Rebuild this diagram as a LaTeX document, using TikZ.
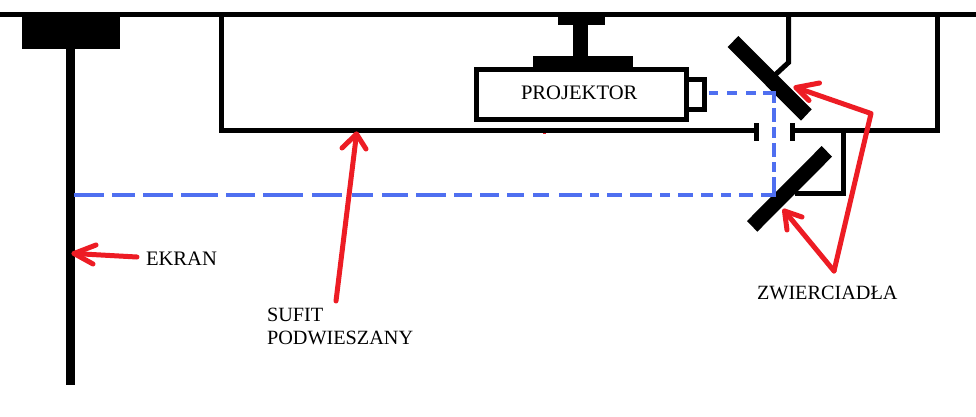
\documentclass[tikz,border=0pt]{standalone}
\usepackage{fontspec}
\setmainfont{Liberation Serif}
\definecolor{beam}{HTML}{4F6FF0}
\definecolor{pointer}{HTML}{ED1C24}
\tikzset{
  frameline/.style={draw=black,line width=5.3pt,line cap=butt,line join=miter},
  thinline/.style={draw=black,line width=5pt,line cap=butt,line join=miter},
  solidpart/.style={fill=black,draw=none},
  beamdash/.style={draw=beam,line width=4.3pt,line cap=butt},
  pointerline/.style={draw=pointer,line width=5pt,line cap=round,line join=round},
  label/.style={anchor=base west,inner sep=0pt,outer sep=0pt,font=\fontsize{20.6}{23}\selectfont,text=black},
  labelsmall/.style={label,font=\fontsize{20.25}{23}\selectfont}
}
\begin{document}
\begin{tikzpicture}[x=1pt,y=-1pt]
\useasboundingbox (0,0) rectangle (976,416);
\fill[white] (0,0) rectangle (976,416);

% ceiling
\draw[frameline] (0,14.5) -- (976,14.5);
% screen
\fill[solidpart] (22,17) rectangle (120,49);
\fill[solidpart] (66,49) rectangle (75,385);
% suspended ceiling
\draw[frameline] (221.5,14.5) -- (221.5,130.5) -- (756,130.5);
\draw[frameline] (792,130.5) -- (937.5,130.5) -- (937.5,14.5);
\draw[frameline] (756.5,123) -- (756.5,141);
\draw[frameline] (792.5,123) -- (792.5,141);
% projector
\fill[solidpart] (558,17) rectangle (605,25);
\fill[solidpart] (573,25) rectangle (588,56);
\fill[solidpart] (533,56) rectangle (633,67);
\draw[frameline] (476.5,69.5) rectangle (686.5,119.5);
\draw[frameline] (689,79.5) -- (704.5,79.5) -- (704.5,109.5) -- (689,109.5);
% mirrors
\draw[thinline] (788.5,15) -- (788.5,62.5) -- (775,75);
\draw[thinline] (843.5,131) -- (843.5,193.5) -- (795,193.5);
\fill[solidpart] (738.3,36) -- (811.7,109.3) -- (801,120.7) -- (727.7,47) -- cycle;
\fill[solidpart] (821.7,146) -- (832,156.7) -- (757.3,231.7) -- (747,221) -- cycle;
% beam
\foreach \a/\b in {74/104,112/135,143/173,181/218,226/255,263/303,312/342,352/373,382/408,416/446,454/472,480/499,507/524,533/549,559/582,590/599,607/622,630/652,660/670,678/693,701/713,721/731,739/753,761/776}
  \draw[beamdash] (\a,195) -- (\b,195);
\foreach \a/\b in {709/718,727/737,746/756,763/776}
  \draw[beamdash] (\a,92.8) -- (\b,92.8);
\foreach \a/\b in {91/103,108/122,127/138,143/157,162/172,177/197}
  \draw[beamdash] (774,\a) -- (774,\b);
% pointers
\draw[pointerline] (137,257) -- (74,253.5);
\draw[pointerline] (96,245) -- (74,253.5) -- (93,264);
\draw[pointerline] (336,301) -- (356.5,134);
\draw[pointerline] (342,148) -- (356.5,134) -- (366,149);
\draw[pointerline] (834,271) -- (871,113.5) -- (796,87.5);
\draw[pointerline] (819.5,83) -- (796,87.5) -- (809,100.5);
\draw[pointerline] (834,271) -- (784.5,211);
\draw[pointerline] (802,217) -- (784.5,211) -- (787,230);
\fill[pointer] (543,133) rectangle (546,134);
% labels
\node[label] (projektor) at (521,99) {PROJEKTOR};
\node[label] (ekran) at (146,265) {EKRAN};
\node[labelsmall] (sufit) at (267,321) {SUFIT};
\node[labelsmall] (podwieszany) at (267,344) {PODWIESZANY};
\node[labelsmall] (zwierciadla) at (757,299) {ZWIERCIADŁA};
\end{tikzpicture}
\end{document}
